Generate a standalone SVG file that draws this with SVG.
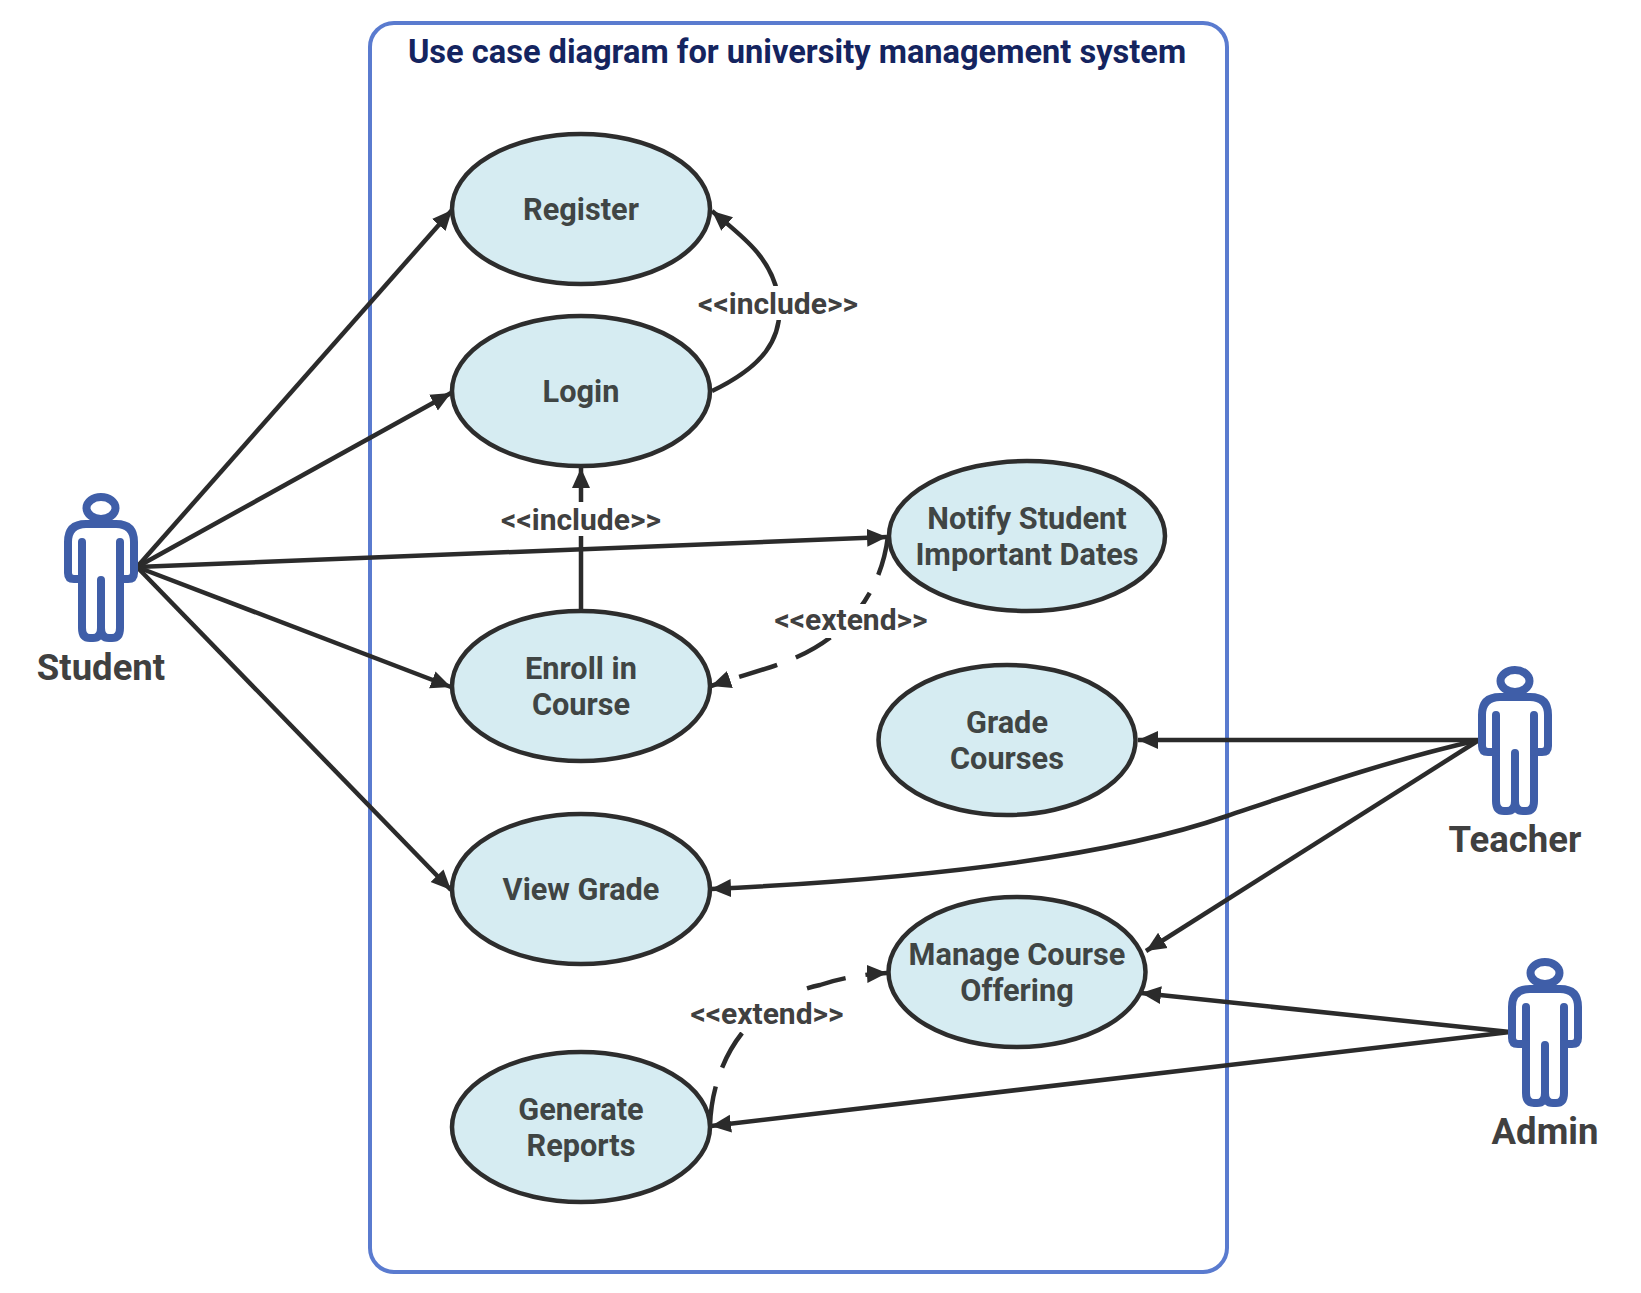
<svg xmlns="http://www.w3.org/2000/svg" xmlns:xlink="http://www.w3.org/1999/xlink" width="1641" height="1293" viewBox="0 0 1641 1293">
<style>
text{font-family:Roboto,"Liberation Sans",sans-serif;font-weight:700;text-anchor:middle}
.uc{fill:#d6ecf2;stroke:#2d2d2d;stroke-width:4.5}
.t{font-size:30.7px;fill:#404544}
.a{font-size:36.5px;fill:#404040}
.l{font-size:30px;fill:#404040}
.c{fill:none;stroke:#2b2b2b;stroke-width:4.5;marker-end:url(#arr)}
.d{stroke-dasharray:40 20}
.bg{fill:#fff}
.fig{fill:none;stroke:#3f5ea8;stroke-width:8;stroke-linejoin:round;stroke-linecap:round}
</style>
<defs>
<marker id="arr" markerUnits="userSpaceOnUse" markerWidth="22" markerHeight="20" refX="20" refY="10" orient="auto"><path d="M0 1L20 10L0 19z" fill="#2b2b2b"/></marker>
<g id="figure" class="fig">
<ellipse cx="101" cy="508" rx="14.5" ry="11"/>
<path d="M82 542V628Q82 638 90 638H93Q101 638 101 628V580V628Q101 638 109 638H112Q120 638 120 628V542"/>
<path d="M82 579H74Q68 579 68 573V542Q68 524 86 524H116Q134 524 134 542V573Q134 579 128 579H120"/>
</g>
</defs>
<rect width="1641" height="1293" fill="#fff"/>
<g id="boundary">
<rect x="370" y="23" width="857" height="1249" rx="24" fill="none" stroke="#5a7bcf" stroke-width="4"/>
<text x="797" y="63" style="font-size:32.6px;fill:#14245f">Use case diagram for university management system</text>
</g>
<g id="connectors">
<path class="c" d="M137 567L452 210"/>
<path class="c" d="M137 567L451 393"/>
<path class="c" d="M137 567L887 537"/>
<path class="c" d="M137 567L451 687"/>
<path class="c" d="M137 567L451 890"/>
<path class="c" d="M712 391C760 368 786 340 778 295C770 255 740 235 712 211"/>
<path class="c" d="M581 611V468"/>
<path class="c d" d="M888 536C880 600 840 640 790 660C765 670 740 676 711 686"/>
<path class="c d" d="M710 1126C712 1060 750 1000 820 985C840 978 865 974 887 973"/>
<path class="c" d="M1479 740H1138"/>
<path class="c" d="M1479 740C1390 760 1310 788 1227 816C1100 860 900 880 711 889"/>
<path class="c" d="M1479 740L1146 951"/>
<path class="c" d="M1510 1032L1141 993"/>
<path class="c" d="M1510 1032L711 1126"/>
<rect class="bg" x="696" y="286" width="164" height="34"/>
<text class="l" x="778" y="314">&lt;&lt;include&gt;&gt;</text>
<rect class="bg" x="499" y="502" width="164" height="34"/>
<text class="l" x="581" y="530">&lt;&lt;include&gt;&gt;</text>
<rect class="bg" x="770" y="604" width="162" height="34"/>
<text class="l" x="851" y="630">&lt;&lt;extend&gt;&gt;</text>
<rect class="bg" x="686" y="988" width="120" height="44"/>
<text class="l" x="767" y="1024">&lt;&lt;extend&gt;&gt;</text>
</g>
<g id="register"><ellipse class="uc" cx="581" cy="209" rx="129" ry="75"/><text class="t" x="581" y="220">Register</text></g>
<g id="login"><ellipse class="uc" cx="581" cy="391" rx="129" ry="75"/><text class="t" x="581" y="402">Login</text></g>
<g id="notify"><ellipse class="uc" cx="1027" cy="536" rx="138" ry="75"/><text class="t" x="1027" y="529">Notify Student</text><text class="t" x="1027" y="565">Important Dates</text></g>
<g id="enroll"><ellipse class="uc" cx="581" cy="686" rx="129" ry="75"/><text class="t" x="581" y="679">Enroll in</text><text class="t" x="581" y="715">Course</text></g>
<g id="grade"><ellipse class="uc" cx="1007" cy="740" rx="128.500" ry="75"/><text class="t" x="1007" y="733">Grade</text><text class="t" x="1007" y="769">Courses</text></g>
<g id="view"><ellipse class="uc" cx="581" cy="889" rx="129" ry="75"/><text class="t" x="581" y="900">View Grade</text></g>
<g id="manage"><ellipse class="uc" cx="1017" cy="972" rx="128.500" ry="75"/><text class="t" x="1017" y="965">Manage Course</text><text class="t" x="1017" y="1001">Offering</text></g>
<g id="generate"><ellipse class="uc" cx="581" cy="1127" rx="129" ry="75"/><text class="t" x="581" y="1120">Generate</text><text class="t" x="581" y="1156">Reports</text></g>
<g id="student"><use href="#figure"/><text class="a" x="101" y="680">Student</text></g>
<g id="teacher"><use href="#figure" x="1414" y="173"/><text class="a" x="1515" y="852">Teacher</text></g>
<g id="admin"><use href="#figure" x="1444" y="465"/><text class="a" x="1545" y="1144">Admin</text></g>
</svg>
